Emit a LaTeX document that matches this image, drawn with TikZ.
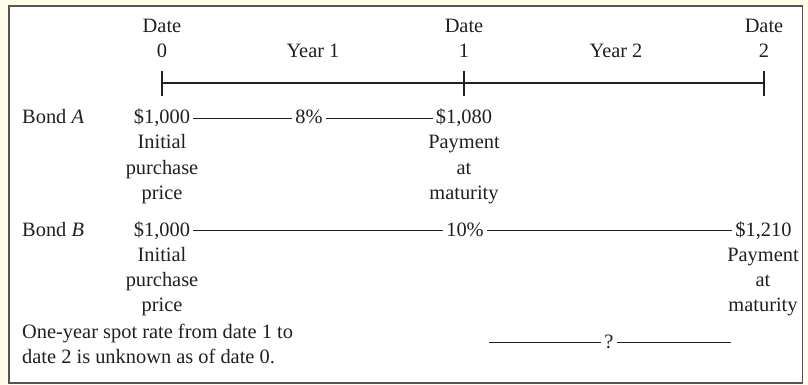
\documentclass[tikz,border=0pt]{standalone}
\usepackage{fontspec}
\setmainfont{Liberation Serif}
\definecolor{cream}{HTML}{FFFDE9}
\definecolor{framegray}{HTML}{555555}
\definecolor{ink}{HTML}{231F20}
\begin{document}
\begin{tikzpicture}[x=1pt,y=-1pt,
  every node/.style={font=\fontsize{20.4}{25}\selectfont, text=ink, inner sep=0pt},
  lbl/.style={anchor=base},
  lblw/.style={anchor=base west},
  val/.style={anchor=base, text height=12pt, text depth=0pt},
  conn/.style={draw=ink, line width=0.9pt, shorten <=3pt, shorten >=3pt},
  axis/.style={draw=ink, line width=1.9pt},
  tickmark/.style={draw=ink, line width=1.1pt}]
\useasboundingbox (0,0) rectangle (808,385);
\fill[cream] (0,0) rectangle (808,385);
\draw[framegray, line width=1.6pt, fill=white] (9,6) rectangle (802.5,383);
% header
\node[lbl] (d0) at (162,33) {Date};
\node[lbl] (d1) at (464,33) {Date};
\node[lbl] (d2) at (764,33) {Date};
\node[lbl] (n0) at (162,58) {0};
\node[lbl] (n1) at (464,58) {1};
\node[lbl] (n2) at (764,58) {2};
\node[lbl] (y1) at (313,58) {Year 1};
\node[lbl] (y2) at (616,58) {Year 2};
% timeline
\coordinate (t0) at (162,83);
\coordinate (t1) at (464,83);
\coordinate (t2) at (764,83);
\draw[axis] (t0) -- (t2);
\draw[tickmark] ([yshift=-13pt]t0) -- ([yshift=12pt]t0);
\draw[tickmark] ([yshift=-13pt]t1) -- ([yshift=12pt]t1);
\draw[tickmark] ([yshift=-13pt]t2) -- ([yshift=12pt]t2);
% Bond A
\node[lblw] (bondA) at (22,124) {Bond \textit{A}};
\node[val] (a0) at (162,124) {\$1,000};
\node[val] (ar) at (309,124) {8\%};
\node[val] (a1) at (464,124) {\$1,080};
\draw[conn] (a0) -- (ar);
\draw[conn] (ar) -- (a1);
\node[lbl] (a0l1) at (162,149) {Initial};
\node[lbl] (a0l2) at (162,174) {purchase};
\node[lbl] (a0l3) at (162,199) {price};
\node[lbl] (a1l1) at (464,149) {Payment};
\node[lbl] (a1l2) at (464,174) {at};
\node[lbl] (a1l3) at (464,199) {maturity};
% Bond B
\node[lblw] (bondB) at (22,236) {Bond \textit{B}};
\node[val] (b0) at (162,236) {\$1,000};
\node[val] (br) at (465,236) {10\%};
\node[val] (b2) at (763.5,236) {\$1,210};
\draw[conn] (b0) -- (br);
\draw[conn] (br) -- (b2);
\node[lbl] (b0l1) at (162,261) {Initial};
\node[lbl] (b0l2) at (162,286) {purchase};
\node[lbl] (b0l3) at (162,311) {price};
\node[lbl] (b2l1) at (763,261) {Payment};
\node[lbl] (b2l2) at (763,286) {at};
\node[lbl] (b2l3) at (763,311) {maturity};
% footnote
\node[lblw] (f1) at (22,338) {One-year spot rate from date 1 to};
\node[lblw] (f2) at (22,363) {date 2 is unknown as of date 0.};
\node[val] (q) at (609,348) {?};
\coordinate (qL) at (486,342);
\coordinate (qR) at (734,342);
\draw[conn] (qL) -- (q);
\draw[conn] (q) -- (qR);
\end{tikzpicture}
\end{document}
